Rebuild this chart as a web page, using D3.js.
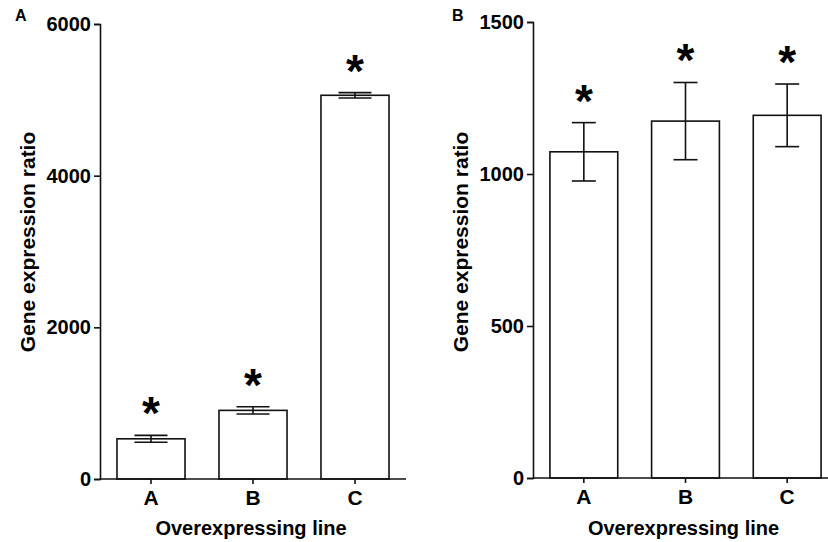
<!DOCTYPE html>
<html>
<head>
<meta charset="utf-8">
<script src="https://cdn.jsdelivr.net/npm/d3@7"></script>
<style>
  body { margin: 0; background: #fff; }
  text { font-family: "Liberation Sans", Arial, sans-serif; font-weight: bold; fill: #000; }
</style>
</head>
<body>
<div id="vis"></div>
<script>
// data
const lines = ["A", "B", "C"];
const ratioA = [530, 905, 5060];
const errA = [45, 48, 35];
const ticksA = [0, 2000, 4000, 6000];
const ratioB = [1073, 1174, 1193];
const errB = [96, 127, 103];
const ticksB = [0, 500, 1000, 1500];

const WIDTH = 828, HEIGHT = 542;

const svg = d3.select("#vis")
  .append("svg")
    .attr("width", WIDTH)
    .attr("height", HEIGHT);

function drawPanel(opts) {
  const g = svg.append("g");
  const x = d3.scaleBand()
    .domain(lines)
    .range([opts.left, opts.right])
    .paddingInner(0.333)
    .paddingOuter(0.1665);
  const y = d3.scaleLinear()
    .domain([0, opts.max])
    .range([opts.bottom, opts.top]);

  // bars
  g.selectAll("rect.bar")
    .data(opts.values)
    .enter()
    .append("rect")
      .attr("x", (d, i) => x(lines[i]))
      .attr("y", d => y(d))
      .attr("width", x.bandwidth())
      .attr("height", d => y(0) - y(d))
      .attr("fill", "#fff")
      .attr("stroke", "#111")
      .attr("stroke-width", 1.6);

  // error bars + asterisks
  const capW = opts.cap;
  opts.values.forEach((v, i) => {
    const cx = x(lines[i]) + x.bandwidth() / 2;
    const lo = y(v - opts.errs[i]), hi = y(v + opts.errs[i]);
    g.append("line").attr("x1", cx).attr("x2", cx).attr("y1", lo).attr("y2", hi)
      .attr("stroke", "#111").attr("stroke-width", 1.6);
    [lo, hi].forEach(yy => {
      g.append("line").attr("x1", cx - capW / 2).attr("x2", cx + capW / 2)
        .attr("y1", yy).attr("y2", yy)
        .attr("stroke", "#111").attr("stroke-width", 1.6);
    });
    g.append("text")
      .attr("x", cx)
      .attr("y", hi - 6)
      .attr("text-anchor", "middle")
      .attr("font-size", 46)
      .text("*");
  });

  // y axis
  const yAxis = g.append("g")
    .attr("transform", `translate(${opts.left},0)`)
    .call(d3.axisLeft(y).tickValues(opts.ticks).tickSize(6).tickPadding(3).tickFormat(d3.format("d")));
  yAxis.selectAll("text").attr("font-size", 20).attr("font-family", null);
  yAxis.selectAll("line, path").attr("stroke", "#111").attr("stroke-width", 1.6);

  // x axis
  const xAxis = g.append("g")
    .attr("transform", `translate(0,${opts.bottom})`)
    .call(d3.axisBottom(x).tickSize(5).tickPadding(6).tickSizeOuter(0));
  xAxis.selectAll("text").attr("font-size", 21).attr("font-family", null);
  xAxis.selectAll("line, path").attr("stroke", "#111").attr("stroke-width", 1.6);
  xAxis.select("path.domain").attr("d", `M${opts.left},0H${opts.axisEnd}`);

  // titles
  g.append("text")
    .attr("transform", `translate(${opts.titleX},242) rotate(-90)`)
    .attr("text-anchor", "middle")
    .attr("font-size", 21)
    .text("Gene expression ratio");
  g.append("text")
    .attr("x", (opts.left + opts.right) / 2 + opts.xTitleShift)
    .attr("y", 535)
    .attr("text-anchor", "middle")
    .attr("font-size", 20)
    .text("Overexpressing line");
  g.append("text")
    .attr("x", opts.labelX)
    .attr("y", 21)
    .attr("font-size", 16)
    .text(opts.label);
}

drawPanel({
  values: ratioA, errs: errA, ticks: ticksA, max: 6000,
  left: 100, right: 406, axisEnd: 406, top: 24, bottom: 479,
  cap: 33, titleX: 35, labelX: 15, label: "A", xTitleShift: -2
});

drawPanel({
  values: ratioB, errs: errB, ticks: ticksB, max: 1500,
  left: 533, right: 838, axisEnd: 828, top: 22, bottom: 478,
  cap: 24, titleX: 468, labelX: 452, label: "B", xTitleShift: -2
});
</script>
</body>
</html>
